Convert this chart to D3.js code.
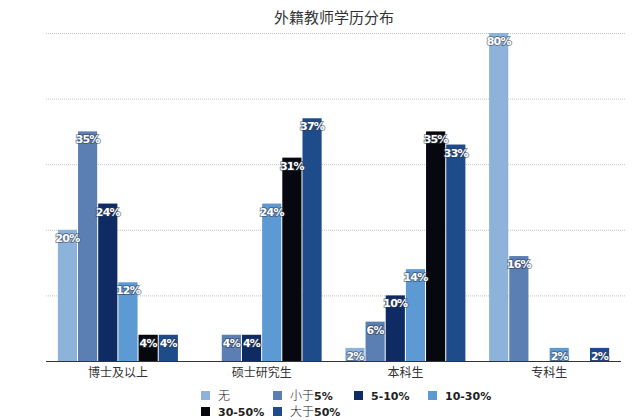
<!DOCTYPE html>
<html>
<head>
<meta charset="utf-8">
<script src="https://cdn.jsdelivr.net/npm/d3@7/dist/d3.min.js"></script>
<style>
  html, body { margin: 0; padding: 0; background: #fff; }
  svg { display: block; font-family: "Noto Sans CJK SC", "DejaVu Sans", sans-serif; }
</style>
</head>
<body>
<svg id="chart" width="640" height="420"></svg>
<script>
const categories = ["博士及以上", "硕士研究生", "本科生", "专科生"];
const seriesNames = ["无", "小于5%", "5-10%", "10-30%", "30-50%", "大于50%"];
const seriesColors = ["#8DB3DA", "#5C7FB3", "#0E2C63", "#5D9AD3", "#07070F", "#1E4C8A"];
const values = [
  [20, 35, 24, 12, 4, 4],
  [0, 4, 4, 24, 31, 37],
  [2, 6, 10, 14, 35, 33],
  [80, 16, 0, 2, 0, 2]
];
const yTicks = [0, 10, 20, 30, 40, 50];
const yMax = 50;
const title = "外籍教师学历分布";

const svg = d3.select("#chart");
const margin = {left: 46, right: 19, top: 33, bottom: 59};
const W = 640, H = 420;

const x0 = d3.scaleBand().domain(categories).range([margin.left, W - margin.right])
  .paddingInner(0.165).paddingOuter(0.0825);
const x1 = d3.scaleBand().domain(seriesNames).range([0, x0.bandwidth()]).paddingInner(0.05);
const y = d3.scaleLinear().domain([0, yMax]).range([H - margin.bottom, margin.top]).clamp(true);
const color = d3.scaleOrdinal().domain(seriesNames).range(seriesColors);

// title
svg.append("text").attr("x", 334).attr("y", 23).attr("text-anchor", "middle")
  .attr("font-size", 15).attr("fill", "#333").text(title);

// gridlines
svg.append("g").selectAll("line").data(yTicks.filter(d => d > 0)).join("line")
  .attr("x1", margin.left).attr("x2", W - margin.right + 4)
  .attr("y1", d => y(d) + 0.5).attr("y2", d => y(d) + 0.5)
  .attr("stroke", "#c4c4c4").attr("stroke-width", 1).attr("stroke-dasharray", "1,1");

// bars
const groups = svg.append("g").selectAll("g").data(categories).join("g")
  .attr("transform", d => `translate(${x0(d)},0)`);

groups.selectAll("rect").data((d, i) => seriesNames.map((s, j) => ({s, v: values[i][j]})))
  .join("rect")
  .attr("x", d => x1(d.s)).attr("width", x1.bandwidth())
  .attr("y", d => y(d.v)).attr("height", d => y(0) - y(d.v))
  .attr("fill", d => color(d.s));

groups.selectAll("text").data((d, i) => seriesNames.map((s, j) => ({s, v: values[i][j]})).filter(d => d.v > 0))
  .join("text")
  .attr("x", d => x1(d.s) + x1.bandwidth() / 2)
  .attr("y", d => y(d.v) + 12)
  .attr("text-anchor", "middle")
  .attr("font-family", "DejaVu Sans")
  .attr("font-weight", "bold")
  .attr("font-size", 11)
  .attr("letter-spacing", -0.8)
  .attr("fill", "#fff")
  .attr("stroke", "rgba(50,60,80,0.55)")
  .attr("stroke-width", 2)
  .attr("paint-order", "stroke")
  .text(d => d.v + "%");

// baseline axis
const xAxis = d3.axisBottom(x0).tickSize(0).tickPadding(7);
const ax = svg.append("g").attr("transform", `translate(0,${y(0)})`).call(xAxis);
ax.select(".domain").attr("stroke", "#333").attr("d", `M${margin.left},0.5H${W - margin.right}`);
ax.selectAll("text").attr("font-size", 12).attr("fill", "#333")
  .attr("font-family", "Noto Sans CJK SC");

// legend
const legendPos = [[205, 395], [277, 395], [358, 395], [432, 395], [205, 411], [277, 411]];
const lg = svg.append("g").selectAll("g").data(seriesNames).join("g")
  .attr("transform", (d, i) => `translate(${legendPos[i][0]},${legendPos[i][1]})`);
lg.append("rect").attr("x", -4).attr("y", -4).attr("width", 9).attr("height", 9)
  .attr("fill", d => color(d));
lg.each(function(d) {
  const t = d3.select(this).append("text").attr("x", 13).attr("y", 4.5)
    .attr("font-size", 12).attr("fill", "#222");
  const m = d.match(/^([^0-9]*)(.*)$/);
  if (m[1]) t.append("tspan").attr("font-family", "Noto Sans CJK SC").attr("font-weight", 300).text(m[1]);
  if (m[2]) t.append("tspan").attr("font-family", "DejaVu Sans").attr("font-weight", "bold")
    .attr("font-size", 11).text(m[2]);
});
</script>
</body>
</html>
